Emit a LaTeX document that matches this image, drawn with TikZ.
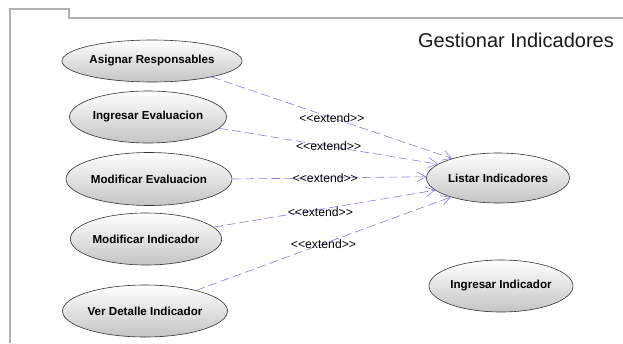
\documentclass[tikz,border=0pt]{standalone}
\usepackage{fontspec}
\setmainfont{Liberation Sans}[Ligatures=NoCommon]
\newfontfamily\titlefont{Liberation Sans}
\usetikzlibrary{shapes.geometric,arrows.meta}
\definecolor{framegray}{RGB}{178,178,178}
\definecolor{extblue}{RGB}{128,128,228}
\definecolor{ucgray}{RGB}{196,196,196}
\newcommand{\extlabel}{{<}{<}extend{>}{>}}
\tikzset{
  uc/.style={ellipse, draw=black!80, line width=0.6pt, top color=white, bottom color=ucgray,
    inner sep=0pt, font=\fontsize{11.6}{13}\selectfont\bfseries, text=black},
  ext/.style={draw=extblue, line width=0.6pt, dash pattern=on 9pt off 4pt,
    -{Straight Barb[length=9pt,width=10pt,line width=0.6pt]}},
  extlbl/.style={font=\fontsize{12.2}{14}\selectfont, text=black, inner sep=0pt}
}
\begin{document}
\begin{tikzpicture}[x=1pt,y=-1pt]
\useasboundingbox (0,0) rectangle (623,343);
\draw[framegray, line width=2pt] (10,343) -- (10,9) -- (69,9) -- (69,18) -- (623,18);
\node[font=\titlefont\fontsize{20}{23}\selectfont, text=black!90] (title) at (516,40) {Gestionar Indicadores};
\node[uc, minimum width=180pt, minimum height=42pt] (asig) at (152,61) {Asignar Responsables};
\node[uc, minimum width=157pt, minimum height=52pt] (ingev) at (148,117) {Ingresar Evaluacion};
\node[uc, minimum width=166pt, minimum height=53pt] (modev) at (149,179) {Modificar Evaluacion};
\node[uc, minimum width=151pt, minimum height=52pt] (modind) at (146,239) {Modificar Indicador};
\node[uc, minimum width=165pt, minimum height=52pt] (ver) at (145,311) {Ver Detalle Indicador};
\node[uc, minimum width=143pt, minimum height=50pt] (listar) at (498,178) {Listar Indicadores};
\node[uc, minimum width=144pt, minimum height=52pt] (ingind) at (501,286) {Ingresar Indicador};
\draw[ext] (asig.345) -- node[extlbl, midway] {\extlabel} (listar.157);
\draw[ext] (ingev.351) -- node[extlbl, midway] {\extlabel} (listar.167);
\draw[ext] (modev.east) -- node[extlbl, midway, xshift=-4pt] {\extlabel} (listar.179);
\draw[ext] (modind.10) -- node[extlbl, midway, xshift=-4pt, yshift=-3.5pt] {\extlabel} (listar.191);
\draw[ext] (ver.22) -- node[extlbl, midway] {\extlabel} (listar.202);
\end{tikzpicture}
\end{document}
